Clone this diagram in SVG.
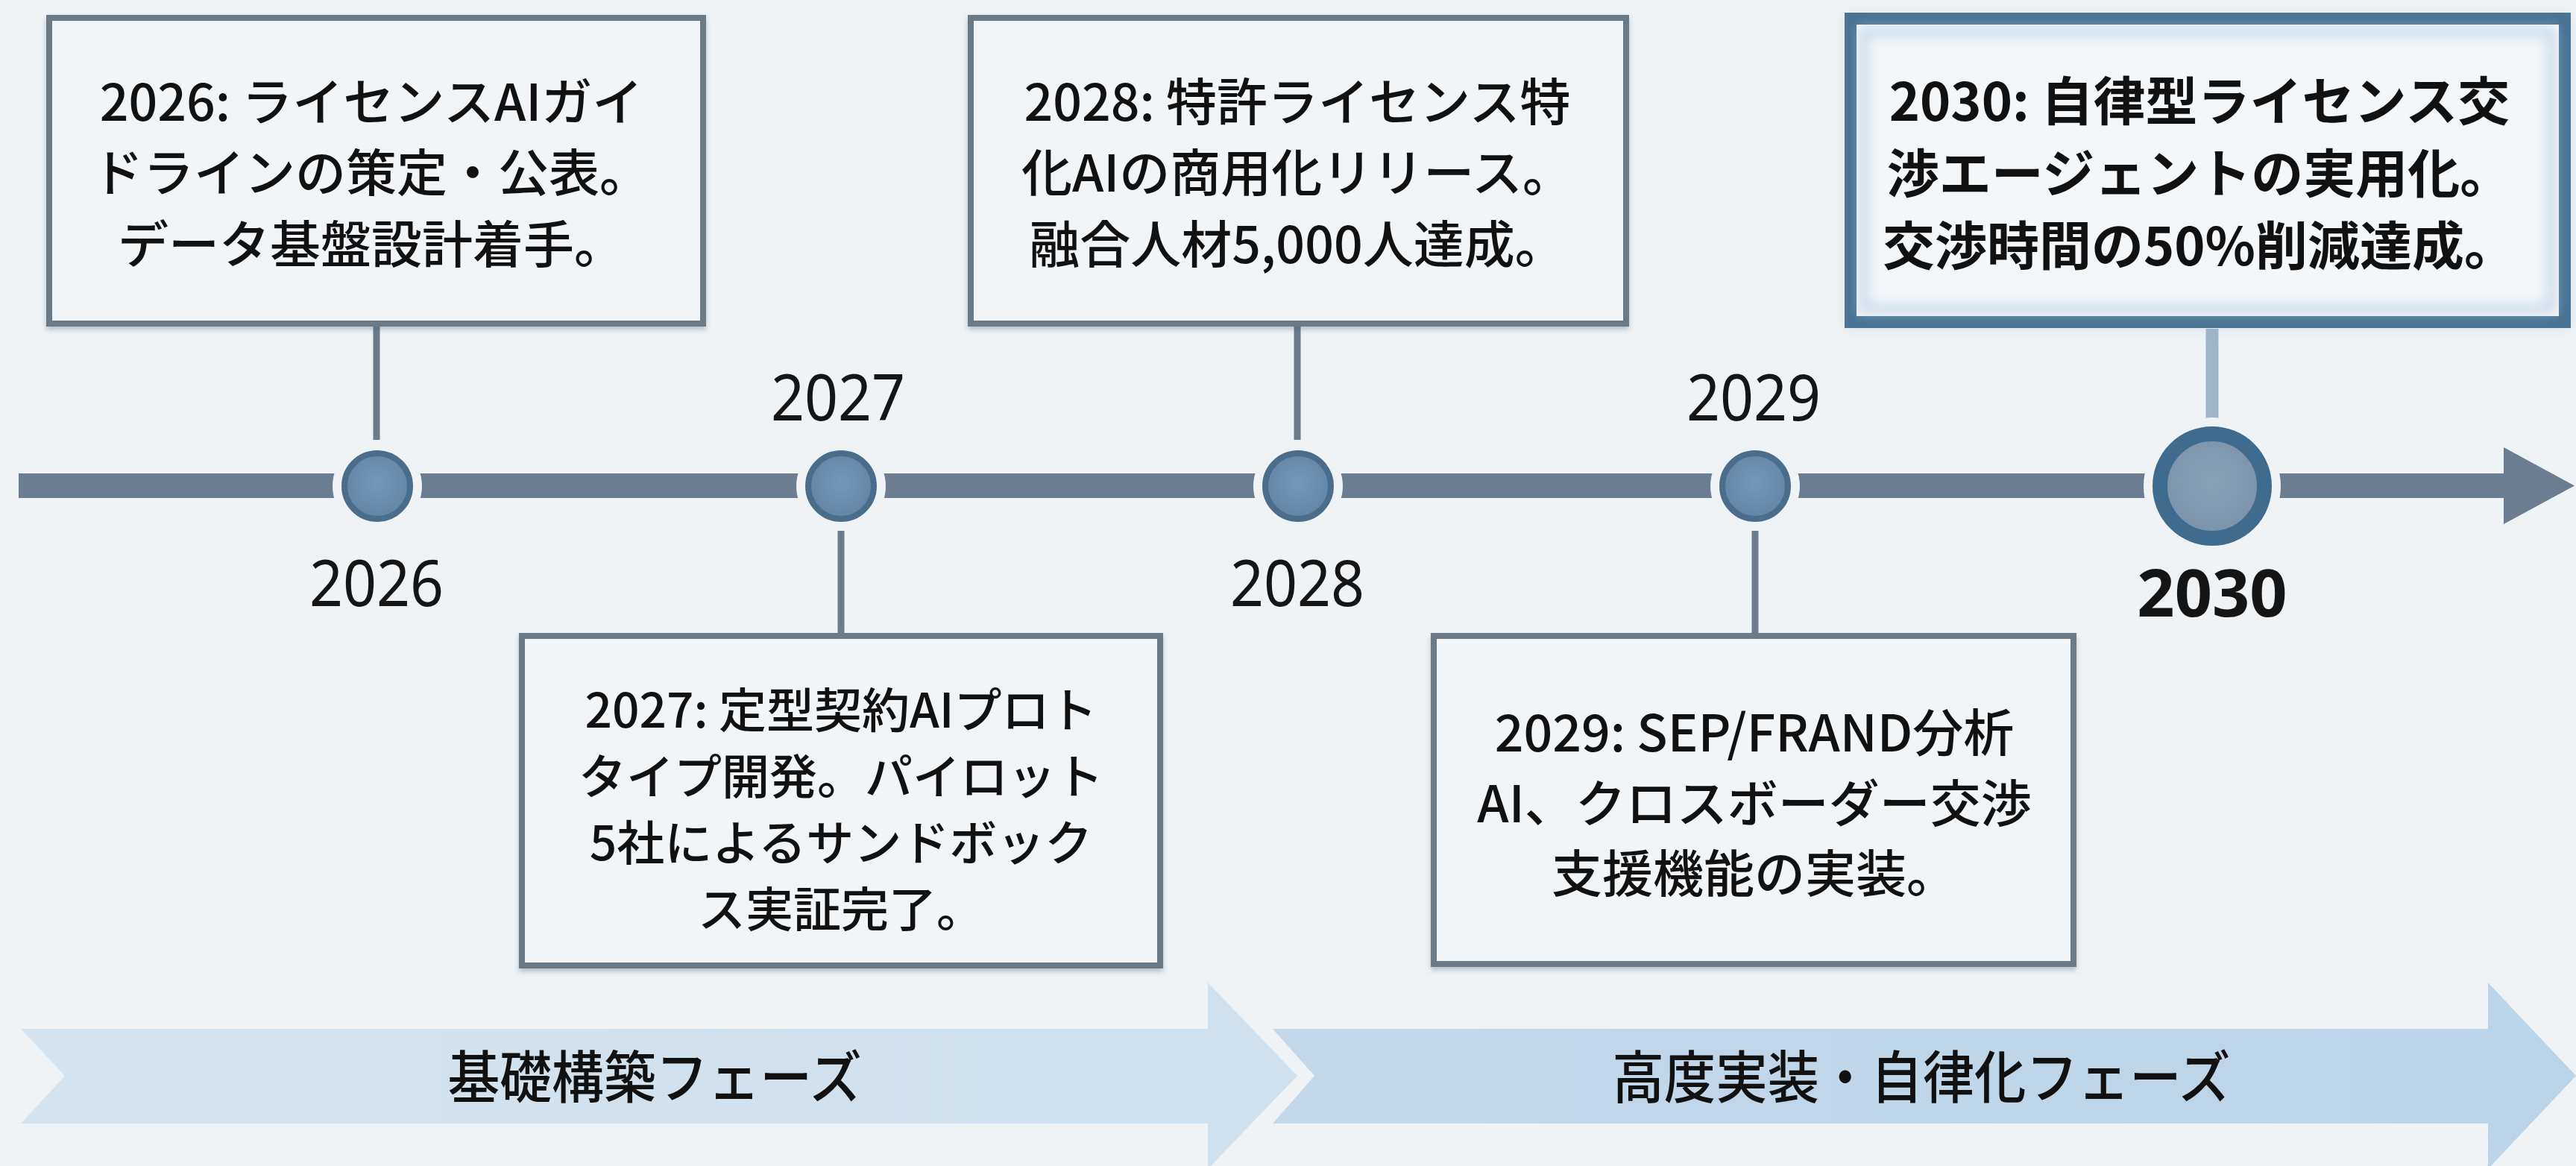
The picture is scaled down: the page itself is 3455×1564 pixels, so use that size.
<svg xmlns="http://www.w3.org/2000/svg" width="3455" height="1564" viewBox="0 0 3455 1564">
  <defs>
    <filter id="shadow" x="-5%" y="-5%" width="110%" height="115%">
      <feDropShadow dx="0" dy="4" stdDeviation="3" flood-color="#4a5a68" flood-opacity="0.35"/>
    </filter>
    <filter id="glow" x="-10%" y="-10%" width="120%" height="120%">
      <feGaussianBlur stdDeviation="8"/>
    </filter>
    <radialGradient id="dotFill" cx="50%" cy="45%" r="60%">
      <stop offset="0" stop-color="#7297b8"/>
      <stop offset="1" stop-color="#5f84a6"/>
    </radialGradient>
    <radialGradient id="bigDotFill" cx="50%" cy="45%" r="60%">
      <stop offset="0" stop-color="#8aa1b6"/>
      <stop offset="1" stop-color="#7890a8"/>
    </radialGradient>
    <linearGradient id="phase1" x1="0" y1="0" x2="1" y2="0">
      <stop offset="0" stop-color="#d4e3ee"/>
      <stop offset="1" stop-color="#d0e0ec"/>
    </linearGradient>
    <linearGradient id="phase2" x1="0" y1="0" x2="1" y2="0">
      <stop offset="0" stop-color="#c3d8e9"/>
      <stop offset="1" stop-color="#bcd4e8"/>
    </linearGradient>
  </defs>
  <style>
    .box { fill: #f2f5f8; stroke: #6b7a87; stroke-width: 8; }
    .txt { font-family: "Noto Sans CJK JP", "Noto Sans", sans-serif; font-size: 68px; font-weight: 500; fill: #111111; text-anchor: middle; }
    .txts { font-family: "Noto Sans CJK JP", "Noto Sans", sans-serif; font-size: 64px; font-weight: 500; fill: #111111; text-anchor: middle; }
    .txtb { font-family: "Noto Sans CJK JP", "Noto Sans", sans-serif; font-size: 70px; font-weight: 700; fill: #111111; text-anchor: middle; }
    .year { font-family: "Noto Sans", "Liberation Sans", sans-serif; font-size: 86px; fill: #151515; text-anchor: middle; }
    .yearb { font-family: "Noto Sans", "Liberation Sans", sans-serif; font-size: 88px; font-weight: 700; fill: #151515; text-anchor: middle; }
    .phase { font-family: "Noto Sans CJK JP", "Noto Sans", sans-serif; font-size: 76px; font-weight: 500; fill: #111111; text-anchor: middle; }
    .conn { stroke: #6b7b8a; stroke-width: 9; fill: none; }
    .halo { fill: #eff3f6; }
    .dot { fill: url(#dotFill); stroke: #4a6d8c; stroke-width: 8; }
  </style>

  <rect x="0" y="0" width="3455" height="1564" fill="#eff3f6"/>

  <!-- phase arrows -->
  <g id="phase-foundation">
    <polygon points="28,1380 1620,1380 1620,1318 1740,1443 1620,1568 1620,1507 28,1507 87,1443" fill="url(#phase1)"/>
    <text class="phase" x="878" y="1473" textLength="555" lengthAdjust="spacingAndGlyphs">基礎構築フェーズ</text>
  </g>
  <g id="phase-advanced">
    <polygon points="1707,1380 3337,1380 3337,1318 3455,1443 3337,1568 3337,1507 1707,1507 1763,1443" fill="url(#phase2)"/>
    <text class="phase" x="2577" y="1473" textLength="829" lengthAdjust="spacingAndGlyphs">高度実装・自律化フェーズ</text>
  </g>

  <!-- timeline axis -->
  <g id="timeline">
    <rect x="25" y="635" width="3338" height="33" fill="#6b7d8e"/>
    <polygon points="3358,600 3453,651.5 3358,703" fill="#6b7d8e"/>
  </g>

  <!-- connectors -->
  <g id="connectors">
    <line class="conn" x1="505" y1="434" x2="505" y2="590"/>
    <line class="conn" x1="1128" y1="712" x2="1128" y2="853"/>
    <line class="conn" x1="1740" y1="434" x2="1740" y2="590"/>
    <line class="conn" x1="2354" y1="712" x2="2354" y2="853"/>
    <line x1="2967" y1="441" x2="2967" y2="562" stroke="#9fb4c6" stroke-width="17"/>
  </g>

  <!-- milestone dots -->
  <g id="dot-2026">
    <circle class="halo" cx="506" cy="652" r="60"/>
    <circle class="dot" cx="506" cy="652" r="44"/>
    <text class="year" x="505" y="813" textLength="180" lengthAdjust="spacingAndGlyphs">2026</text>
  </g>
  <g id="dot-2027">
    <circle class="halo" cx="1128" cy="652" r="60"/>
    <circle class="dot" cx="1128" cy="652" r="44"/>
    <text class="year" x="1124" y="564" textLength="180" lengthAdjust="spacingAndGlyphs">2027</text>
  </g>
  <g id="dot-2028">
    <circle class="halo" cx="1741" cy="652" r="60"/>
    <circle class="dot" cx="1741" cy="652" r="44"/>
    <text class="year" x="1740" y="813" textLength="180" lengthAdjust="spacingAndGlyphs">2028</text>
  </g>
  <g id="dot-2029">
    <circle class="halo" cx="2354" cy="652" r="60"/>
    <circle class="dot" cx="2354" cy="652" r="44"/>
    <text class="year" x="2352" y="564" textLength="180" lengthAdjust="spacingAndGlyphs">2029</text>
  </g>
  <g id="dot-2030">
    <circle class="halo" cx="2967" cy="652" r="92"/>
    <circle cx="2967" cy="652" r="70" fill="url(#bigDotFill)" stroke="#3f6b8f" stroke-width="20"/>
    <text class="yearb" x="2967" y="827">2030</text>
  </g>

  <!-- event boxes -->
  <g id="box-2026">
    <rect class="box" x="66" y="24" width="877" height="410" filter="url(#shadow)"/>
    <text class="txt" x="498" y="162"><tspan x="498" y="162">2026: ライセンスAIガイ</tspan><tspan x="498" y="257">ドラインの策定・公表。</tspan><tspan x="498" y="353">データ基盤設計着手。</tspan></text>
  </g>
  <g id="box-2027">
    <rect class="box" x="700" y="853" width="856" height="442" filter="url(#shadow)"/>
    <text class="txts" x="1128" y="976"><tspan x="1128" y="976">2027: 定型契約AIプロト</tspan><tspan x="1128" y="1065">タイプ開発。パイロット</tspan><tspan x="1128" y="1154">5社によるサンドボック</tspan><tspan x="1128" y="1243">ス実証完了。</tspan></text>
  </g>
  <g id="box-2028">
    <rect class="box" x="1302" y="24" width="879" height="410" filter="url(#shadow)"/>
    <text class="txt" x="1740" y="162"><tspan x="1740" y="162">2028: 特許ライセンス特</tspan><tspan x="1740" y="257">化AIの商用化リリース。</tspan><tspan x="1740" y="353">融合人材5,000人達成。</tspan></text>
  </g>
  <g id="box-2029">
    <rect class="box" x="1923" y="853" width="858" height="440" filter="url(#shadow)"/>
    <text class="txt" x="2353" y="1008"><tspan x="2353" y="1008">2029: SEP/FRAND分析</tspan><tspan x="2353" y="1103">AI、クロスボーダー交渉</tspan><tspan x="2353" y="1197">支援機能の実装。</tspan></text>
  </g>
  <g id="box-2030">
    <rect x="2476" y="20" width="970" height="420" fill="#9fbcd4" opacity="0.35" filter="url(#glow)"/>
    <rect x="2482" y="25" width="958" height="407" fill="#f3f7fa" stroke="#4a7394" stroke-width="16"/>
    <rect x="2500" y="43" width="922" height="371" fill="none" stroke="#b3cbe0" stroke-width="12" opacity="0.7" filter="url(#glow)"/>
    <text class="txtb" x="2950" y="162"><tspan x="2950" y="162">2030: 自律型ライセンス交</tspan><tspan x="2950" y="259">渉エージェントの実用化。</tspan><tspan x="2950" y="356">交渉時間の50%削減達成。</tspan></text>
  </g>
</svg>
